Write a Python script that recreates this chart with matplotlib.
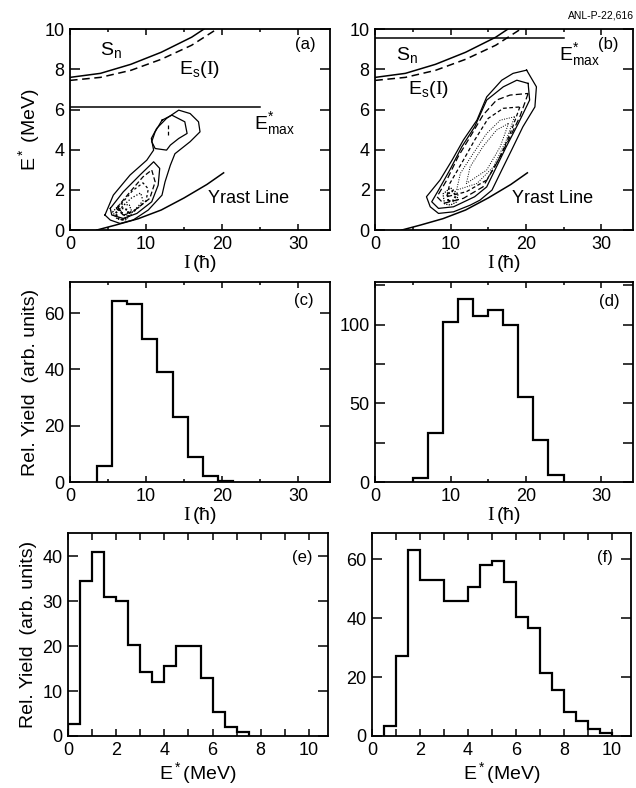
import numpy as np
import matplotlib
matplotlib.use("Agg")
import matplotlib.pyplot as plt
from matplotlib.ticker import MultipleLocator

plt.rcParams['font.family'] = ['Liberation Sans', 'DejaVu Sans']
plt.rcParams['mathtext.fontset'] = 'custom'
plt.rcParams['mathtext.rm'] = 'Liberation Sans'
plt.rcParams['mathtext.it'] = 'Liberation Sans'
plt.rcParams['mathtext.tt'] = 'Liberation Serif'

# ---- curves in the E*-I plane ----
sn_I = [0, 4, 8, 12, 16, 17.6]
sn_E = [7.6, 7.8, 8.25, 8.85, 9.6, 10.0]
es_I = [0, 4, 8, 12, 16, 19.3]
es_E = [7.45, 7.6, 7.95, 8.5, 9.2, 10.0]
yrast_I = [3.5, 6, 9, 12, 15, 18, 20.2]
yrast_E = [0.0, 0.25, 0.57, 1.0, 1.6, 2.27, 2.85]
emax_a = 6.15
emax_b = 9.55
emax_Iend = 25

# ---- contour outlines, panel (a) ----
a_c1 = [(4.6, 0.75), (5.7, 1.74), (7.9, 2.74), (10.1, 3.48), (11.0, 3.98), (10.7, 4.56),
        (11.4, 5.06), (12.7, 5.56), (14.3, 5.97), (15.8, 5.8), (16.9, 5.39), (17.1, 4.89),
        (15.8, 4.4), (13.8, 3.8), (13.2, 3.23), (12.5, 2.4), (12.1, 1.74), (10.3, 1.0),
        (8.3, 0.5), (6.6, 0.33), (5.3, 0.5)]
a_c2 = [(12.1, 5.47), (13.4, 5.72), (15.1, 5.39), (15.4, 4.81), (14.3, 4.56), (13.2, 4.23),
        (12.7, 3.98), (11.2, 4.06), (10.75, 4.4), (11.2, 4.89)]
a_c3 = [(5.3, 1.08), (7.0, 1.9), (9.2, 2.74), (11.0, 3.4), (11.8, 3.07), (11.6, 2.24),
        (10.75, 1.41), (8.8, 0.83), (7.0, 0.58), (5.5, 0.75)]
a_c4 = [(6.1, 1.08), (7.9, 1.9), (9.6, 2.65), (10.75, 2.99), (11.2, 2.4), (10.5, 1.58),
        (8.55, 1.0), (7.0, 0.75)]
a_c5 = [(6.3, 1.1), (8.2, 1.95), (9.6, 2.35), (10.3, 2.05), (10.0, 1.45), (8.5, 0.95),
        (7.1, 0.75)]
a_c6 = [(6.5, 1.05), (8.1, 1.6), (9.3, 1.85), (9.6, 1.45), (8.4, 0.95), (7.2, 0.7)]
a_c7 = [(5.6, 0.9), (6.6, 1.3), (7.8, 1.25), (8.2, 0.85), (7.3, 0.5), (6.2, 0.55)]
a_c8 = [(6.0, 0.85), (6.8, 1.1), (7.6, 1.0), (7.7, 0.7), (7.0, 0.5), (6.3, 0.6)]
a_peak_I = [12.9, 12.9]
a_peak_E = [5.25, 4.75]

# ---- contour outlines, panel (b) ----
b_c1 = [(20.1, 7.96), (21.4, 7.13), (21.2, 6.13), (19.6, 5.14), (18.1, 3.98), (16.8, 2.99),
        (15.5, 1.99), (13.9, 1.49), (12.6, 1.24), (10.4, 0.91), (8.4, 0.83), (7.3, 1.16),
        (6.8, 1.66), (8.6, 2.49), (10.2, 3.48), (11.7, 4.48), (13.5, 5.47), (14.8, 6.63),
        (16.8, 7.46), (18.3, 7.8)]
b_c2 = [(20.3, 7.3), (20.5, 6.47), (19.0, 5.31), (17.4, 4.15), (16.1, 3.15), (14.8, 2.15),
        (13.2, 1.66), (10.4, 1.16), (8.4, 1.08), (7.5, 1.41), (8.4, 1.99), (9.9, 2.99),
        (11.5, 4.15), (13.2, 5.14), (14.8, 6.47), (17.0, 7.13), (18.8, 7.46)]
b_c3 = [(20.3, 6.8), (19.2, 5.64), (17.7, 4.48), (16.1, 3.32), (14.3, 2.15), (11.7, 1.58),
        (9.05, 1.33), (8.2, 1.66), (9.5, 2.49), (11.0, 3.65), (12.6, 4.64), (14.3, 5.72),
        (16.1, 6.47), (17.9, 6.72)]
b_c4 = [(19.2, 6.13), (18.1, 4.98), (16.6, 3.65), (14.8, 2.49), (12.1, 1.91), (9.5, 1.66),
        (9.9, 2.32), (11.7, 3.48), (13.2, 4.48), (15.0, 5.56), (17.0, 6.06)]
b_c5 = [(18.5, 5.64), (17.4, 4.48), (15.7, 3.15), (13.5, 2.32), (10.8, 1.99), (11.3, 2.82),
        (13.0, 3.81), (14.8, 4.81), (16.6, 5.47)]
b_c6 = [(17.7, 5.31), (16.6, 4.15), (14.8, 2.99), (12.1, 2.32), (12.6, 3.15), (14.3, 4.15),
        (16.1, 4.98)]
b_c7 = [(9.2, 1.3), (9.0, 1.8), (10.0, 2.1), (11.0, 1.8), (10.8, 1.4), (10.0, 1.25)]
b_c8 = [(9.7, 1.45), (9.6, 1.8), (10.3, 1.95), (10.7, 1.7), (10.3, 1.45)]

# ---- spin distributions (c), (d) ----
c_edges = [3.5, 5.5, 7.5, 9.5, 11.5, 13.5, 15.5, 17.5, 19.5, 21.5]
c_yield = [5.9, 64.3, 63.2, 50.8, 39.2, 23.2, 9.1, 2.2, 0.6]
d_edges = [5, 7, 9, 11, 13, 15, 17, 19, 21, 23, 25]
d_yield = [2.5, 31.5, 102, 116, 105.5, 109, 100, 54, 26.5, 4.7]

# ---- excitation energy distributions (e), (f) ----
e_edges = [0, 0.5, 1.0, 1.5, 2.0, 2.5, 3.0, 3.5, 4.0, 4.5, 5.0, 5.5, 6.0, 6.5, 7.0, 7.5]
e_yield = [2.6, 34.5, 41, 31, 30, 20.3, 14.3, 12, 15.5, 20, 20, 13, 5.4, 1.9, 0.8]
f_edges = [0.5, 1.0, 1.5, 2.0, 2.5, 3.0, 3.5, 4.0, 4.5, 5.0, 5.5, 6.0, 6.5, 7.0, 7.5, 8.0,
           8.5, 9.0, 9.5, 10.0]
f_yield = [3.5, 27, 63, 53, 53, 45.7, 45.7, 50.6, 58, 59.4, 52.3, 40.3, 36.6, 21.4, 15.7,
           8, 5.1, 2.3, 1.1]


def style(ax, xmaj, xmin, ymaj, ymin=None, xlen=(4.5, 2.5)):
    ax.xaxis.set_major_locator(MultipleLocator(xmaj))
    ax.xaxis.set_minor_locator(MultipleLocator(xmin))
    ax.yaxis.set_major_locator(MultipleLocator(ymaj))
    if ymin is not None:
        ax.yaxis.set_minor_locator(MultipleLocator(ymin))
    ax.tick_params(which='both', direction='in', top=True, right=True, width=1.1,
                   labelsize=13)
    ax.tick_params(axis='x', which='major', length=xlen[0], pad=4)
    ax.tick_params(axis='x', which='minor', length=xlen[1])
    ax.tick_params(axis='y', which='major', length=7, pad=4)
    ax.tick_params(axis='y', which='minor', length=7)
    for s in ax.spines.values():
        s.set_linewidth(1.3)


def outline(ax, pts, ls, lw=0.9):
    p = np.array(pts + [pts[0]])
    ax.plot(p[:, 0], p[:, 1], color='k', ls=ls, lw=lw)


fig = plt.figure(figsize=(6.36, 7.88), dpi=100)
ax_a = fig.add_axes([0.110, 0.708, 0.409, 0.255])
ax_b = fig.add_axes([0.590, 0.708, 0.405, 0.255])
ax_c = fig.add_axes([0.110, 0.388, 0.409, 0.254])
ax_d = fig.add_axes([0.590, 0.388, 0.405, 0.254])
ax_e = fig.add_axes([0.107, 0.066, 0.409, 0.258])
ax_f = fig.add_axes([0.585, 0.066, 0.407, 0.258])

xl_I = r"$\mathtt{I}\,$(ħ)"

# (a) and (b)
for ax, emax, lab in [(ax_a, emax_a, '(a)'), (ax_b, emax_b, '(b)')]:
    ax.plot(sn_I, sn_E, 'k-', lw=1.1)
    ax.plot(es_I, es_E, 'k--', lw=1.1, dashes=(5, 3))
    ax.plot(yrast_I, yrast_E, 'k-', lw=1.1)
    ax.plot([0, emax_Iend], [emax, emax], 'k-', lw=1.1)
    ax.set_xlim(0, 34.2)
    ax.set_ylim(0, 10)
    style(ax, 10, 5, 2)
    ax.set_xlabel(xl_I, fontsize=14, labelpad=0)
    ax.text(0.945, 0.925, lab, transform=ax.transAxes, ha='right', va='center', fontsize=12)
    ax.text(18.2, 1.55, 'Yrast Line', fontsize=13, va='center')

ax_a.set_ylabel(r"$\mathrm{E}^*$ (MeV)", fontsize=14, labelpad=2)
ax_a.text(3.9, 8.95, r"$\mathrm{S}_{\mathrm{n}}$", fontsize=14, va='center')
ax_a.text(14.3, 8.0, r"$\mathrm{E}_{\mathrm{s}}(\mathtt{I})$", fontsize=14, va='center')
ax_a.text(24.2, 5.3, r"$\mathrm{E}^{*}_{\mathrm{max}}$", fontsize=14, va='center')
ax_b.text(2.7, 8.7, r"$\mathrm{S}_{\mathrm{n}}$", fontsize=14, va='center')
ax_b.text(4.4, 7.0, r"$\mathrm{E}_{\mathrm{s}}(\mathtt{I})$", fontsize=14, va='center')
ax_b.text(24.4, 8.75, r"$\mathrm{E}^{*}_{\mathrm{max}}$", fontsize=14, va='center')

outline(ax_a, a_c1, '-')
outline(ax_a, a_c2, '-')
outline(ax_a, a_c3, '-')
outline(ax_a, a_c4, (0, (4, 2)))
outline(ax_a, a_c5, (0, (2, 2)))
outline(ax_a, a_c6, (0, (1, 1.5)))
outline(ax_a, a_c7, (0, (1, 1)))
outline(ax_a, a_c8, (0, (1, 1)), lw=1.4)
ax_a.plot(a_peak_I, a_peak_E, 'k', ls=(0, (3, 2)), lw=0.9)

outline(ax_b, b_c1, '-')
outline(ax_b, b_c2, '-')
outline(ax_b, b_c3, (0, (5, 2.5)))
outline(ax_b, b_c4, (0, (3, 2)))
outline(ax_b, b_c5, (0, (1, 1.5)), lw=0.7)
outline(ax_b, b_c6, (0, (1, 1.5)), lw=0.7)
outline(ax_b, b_c7, (0, (1, 1)))
outline(ax_b, b_c8, (0, (1, 1)), lw=1.4)

# (c) and (d)
ax_c.stairs(c_yield, c_edges, color='k', lw=1.6)
ax_c.set_xlim(0, 34.2)
ax_c.set_ylim(0, 71)
style(ax_c, 10, 5, 20)
ax_c.set_xlabel(xl_I, fontsize=14, labelpad=0)
ax_c.set_ylabel("Rel. Yield  (arb. units)", fontsize=14, labelpad=4)
ax_c.text(0.935, 0.91, '(c)', transform=ax_c.transAxes, ha='right', va='center', fontsize=12)

ax_d.stairs(d_yield, d_edges, color='k', lw=1.6)
ax_d.set_xlim(0, 34.2)
ax_d.set_ylim(0, 127)
style(ax_d, 10, 5, 50, 25)
ax_d.yaxis.set_minor_formatter(plt.NullFormatter())
ax_d.set_xlabel(xl_I, fontsize=14, labelpad=0)
ax_d.text(0.95, 0.905, '(d)', transform=ax_d.transAxes, ha='right', va='center', fontsize=12)

# (e) and (f)
ax_e.stairs(e_yield, e_edges, color='k', lw=1.6)
ax_e.set_xlim(0, 10.8)
ax_e.set_ylim(0, 45.3)
style(ax_e, 2, 1, 10, xlen=(5, 5))
ax_e.set_xlabel(r"$\mathrm{E}^*$(MeV)", fontsize=14, labelpad=1)
ax_e.set_ylabel("Rel. Yield  (arb. units)", fontsize=14, labelpad=4)
ax_e.text(0.94, 0.88, '(e)', transform=ax_e.transAxes, ha='right', va='center', fontsize=12)

ax_f.stairs(f_yield, f_edges, color='k', lw=1.6)
ax_f.set_xlim(0, 10.8)
ax_f.set_ylim(0, 69)
style(ax_f, 2, 1, 20, xlen=(5, 5))
ax_f.set_xlabel(r"$\mathrm{E}^*$(MeV)", fontsize=14, labelpad=1)
ax_f.text(0.93, 0.877, '(f)', transform=ax_f.transAxes, ha='right', va='center', fontsize=12)

fig.text(0.997, 0.98, 'ANL-P-22,616', ha='right', va='center', fontsize=7.5)

fig.savefig('out.png', dpi=100)
